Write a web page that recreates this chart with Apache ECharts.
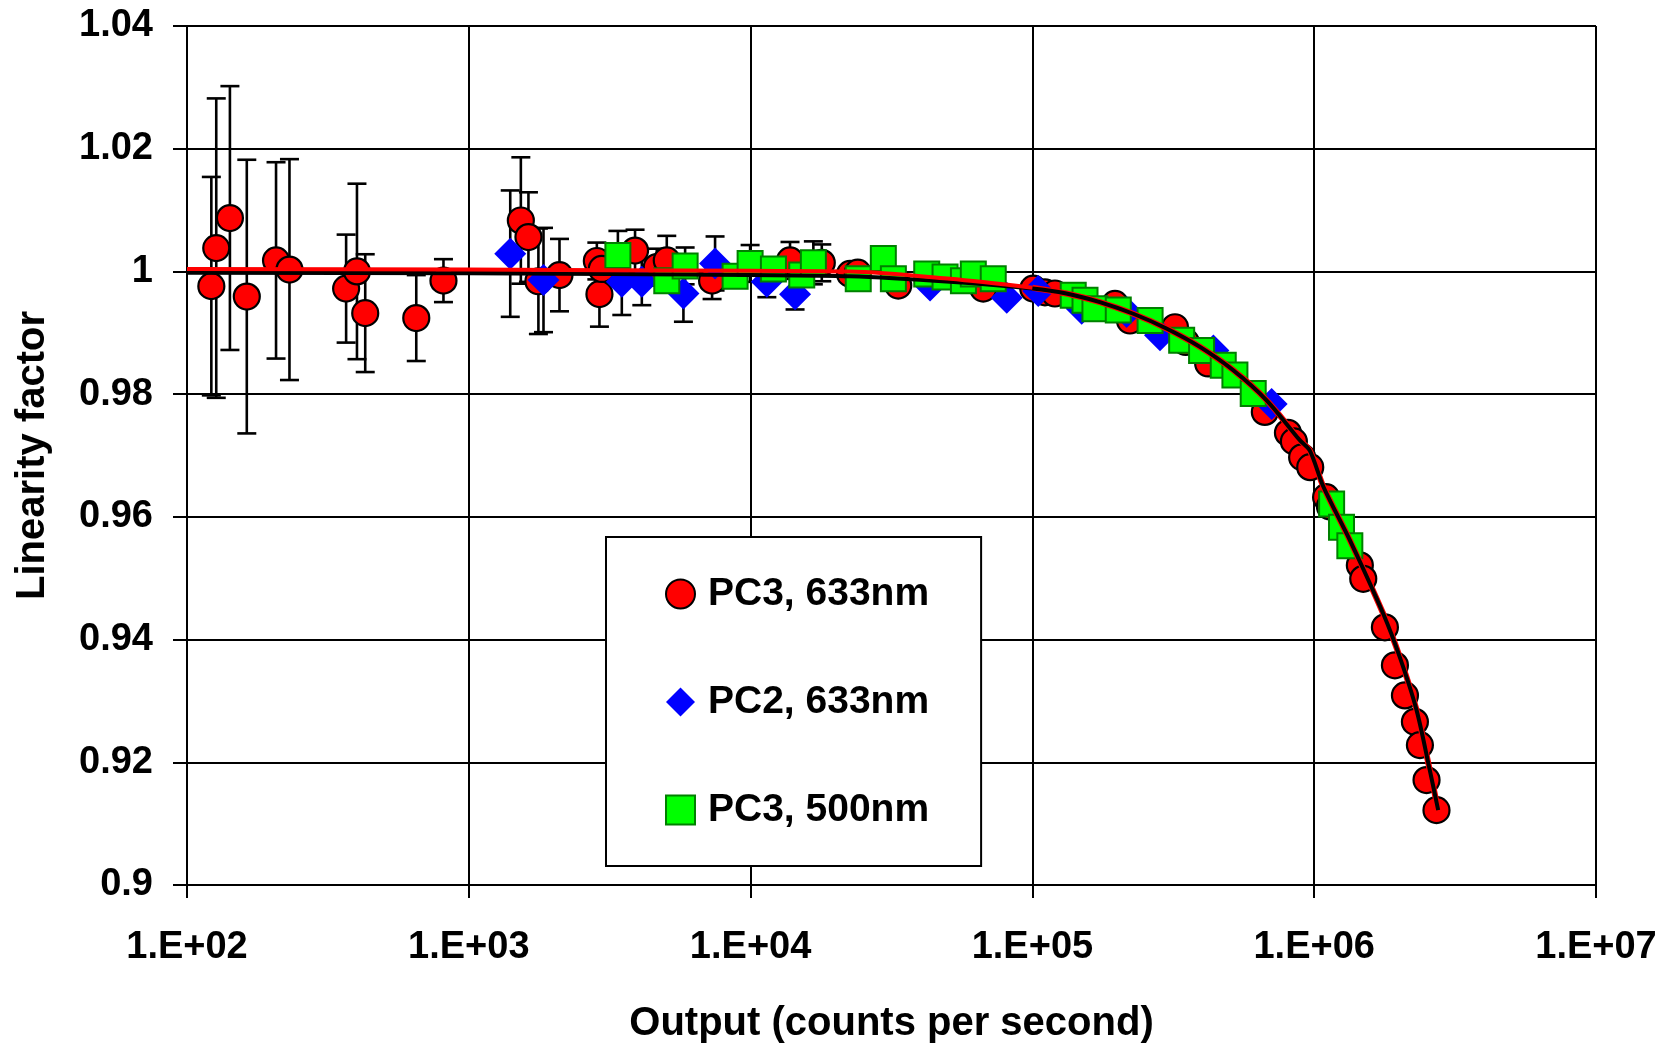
<!DOCTYPE html>
<html>
<head>
<meta charset="utf-8">
<script src="https://cdn.jsdelivr.net/npm/echarts@6/dist/echarts.min.js"></script>
<style>
html,body{margin:0;padding:0;background:#fff;}
#chart{width:1673px;height:1045px;}
</style>
</head>
<body>
<div id="chart"></div>
<script>
// ---- Data ----
const xTickLabels = ['1.E+02','1.E+03','1.E+04','1.E+05','1.E+06','1.E+07'];
const yTickLabels = ['0.9','0.92','0.94','0.96','0.98','1','1.02','1.04'];

// PC3, 633nm : [x, y, error]
const pc3_633 = [
  [122,0.9976,0.0178],[127,1.0038,0.0244],[142,1.0087,0.0215],[163,0.9959,0.0223],
  [207,1.0018,0.0160],[231,1.0003,0.0180],[367,0.9972,0.0088],[401,1.0000,0.0143],
  [429,0.9932,0.0096],[651,0.9924,0.0070],[813,0.9985,0.0035],
  [1530,1.0083,0.0103],[1628,1.0056,0.0073],[1766,0.9984,0.0086],[2098,0.9994,0.0059],
  [2847,1.0017,0.0030],[2908,0.9963,0.0053],[2965,1.0004,0.0030],[3890,1.0034,0.0034],
  [4645,1.0007,0.0030],[5041,1.0018,0.0040],[7300,0.9985,0.0030],[13800,1.0018,0.0030],
  [17890,1.0014,0.0030],[22540,0.9996,0],[24000,0.9998,0],[33420,0.9977,0],
  [66930,0.9972,0],[100700,0.9972,0],[110800,0.9966,0],[120200,0.9964,0],
  [196400,0.9947,0],[221900,0.9920,0],[320600,0.9909,0],[350000,0.9885,0],
  [420400,0.9850,0],[668100,0.9771,0],[807000,0.9737,0],[847000,0.9723,0],
  [906000,0.9697,0],[968000,0.9681,0],[1102000,0.9632,0],[1137000,0.9617,0],
  [1452000,0.9521,0],[1493000,0.9499,0],[1782000,0.9420,0],[1934000,0.9358,0],
  [2099000,0.9309,0],[2277000,0.9266,0],[2372000,0.9228,0],[2504000,0.9171,0],
  [2716000,0.9122,0]
];

// PC2, 633nm : [x, y, error]
const pc2_633 = [
  [1403,1.0029,0.0103],[1841,0.9986,0.0085],[3491,0.9983,0.0054],[4111,0.9983,0.0038],
  [5776,0.9964,0.0046],[7480,1.0013,0.0044],[11420,0.9983,0.0025],[14380,0.9963,0.0025],
  [43340,0.9977,0],[81100,0.9957,0],[104900,0.9968,0],[149600,0.9939,0],
  [216000,0.9934,0],[283600,0.9896,0],[438700,0.9871,0],[706200,0.9784,0]
];

// PC3, 500nm : [x, y, error]
const pc3_500 = [
  [3381,1.0026,0.0040],[5041,0.9985,0],[5857,1.0009,0.0030],[8810,0.9992,0],
  [9960,1.0013,0.0030],[12050,1.0004,0],[15190,0.9994,0],[16700,1.0014,0.0035],
  [24100,0.9988,0],[29580,1.0021,0],[32110,0.9988,0],[42170,0.9996,0],
  [48980,0.9991,0],[56920,0.9985,0],[61700,0.9996,0],[72620,0.9988,0],
  [139600,0.9961,0],[153700,0.9953,0],[166700,0.9939,0],[201700,0.9937,0],
  [261600,0.9920,0],[338600,0.9888,0],[398400,0.9871,0],[475600,0.9847,0],
  [523200,0.9831,0],[607600,0.9801,0],[1153000,0.9621,0],[1250000,0.9583,0],
  [1338000,0.9553,0]
];

// Fit curves
const fitRed = [
  [100,1.0004],[1000,1.0003],[10000,1.0001],[22500,1.0000],[51000,0.9988],
  [100000,0.99735],[132000,0.9964],[173500,0.9950],[228000,0.9931],[299000,0.9907],
  [393000,0.9877],[516000,0.9839],[678000,0.9790],[889000,0.9725],[965000,0.9708],
  [1078000,0.9649],[1338000,0.9562],[1758000,0.9442],[2014000,0.9371],
  [2308000,0.9285],[2572000,0.9187],[2754000,0.9122]
];
const fitBlack = [
  [100,0.9998],[1000,0.9997],[10000,0.9994],[22500,0.9992],[51000,0.9983],
  [100000,0.9972],[132000,0.9964],[173500,0.9950],[228000,0.9931],[299000,0.9907],
  [393000,0.9877],[516000,0.9839],[678000,0.9790],[889000,0.9725],[965000,0.9708],
  [1078000,0.9649],[1338000,0.9562],[1758000,0.9442],[2014000,0.9371],
  [2308000,0.9285],[2572000,0.9187],[2754000,0.9122]
];

const FONT = '"Liberation Sans", Arial, sans-serif';

function errorBarSeries(data, z) {
  return {
    type: 'custom',
    name: 'err',
    z: z,
    silent: true,
    data: data.filter(d => d[2] > 0),
    encode: { x: 0, y: 1 },
    renderItem: function (params, api) {
      const x = api.value(0), y = api.value(1), e = api.value(2);
      const top = api.coord([x, y + e]);
      const bot = api.coord([x, y - e]);
      const hw = 9.5;
      const st = { stroke: '#000', lineWidth: 2.6 };
      return {
        type: 'group',
        children: [
          { type: 'line', shape: { x1: top[0], y1: top[1], x2: bot[0], y2: bot[1] }, style: st },
          { type: 'line', shape: { x1: top[0] - hw, y1: top[1], x2: top[0] + hw, y2: top[1] }, style: st },
          { type: 'line', shape: { x1: bot[0] - hw, y1: bot[1], x2: bot[0] + hw, y2: bot[1] }, style: st }
        ]
      };
    }
  };
}

const chart = echarts.init(document.getElementById('chart'), null, { renderer: 'canvas' });
chart.setOption({
  animation: false,
  backgroundColor: '#fff',
  grid: { left: 187, right: 77, top: 26, bottom: 160, containLabel: false, outerBoundsMode: 'none' },
  xAxis: {
    type: 'log', logBase: 10, min: 100, max: 10000000,
    name: 'Output (counts per second)', nameLocation: 'middle', nameGap: 119,
    nameTextStyle: { fontFamily: FONT, fontWeight: 'bold', fontSize: 40, color: '#000' },
    axisLine: { show: true, onZero: false, lineStyle: { color: '#000', width: 2 } },
    axisTick: { show: true, length: 13, lineStyle: { color: '#000', width: 2 } },
    minorTick: { show: false },
    splitLine: { show: true, lineStyle: { color: '#000', width: 2 } },
    axisLabel: {
      margin: 44, fontFamily: FONT, fontWeight: 'bold', fontSize: 38, color: '#000',
      formatter: function (v) { return xTickLabels[Math.round(Math.log10(v)) - 2]; }
    }
  },
  yAxis: {
    type: 'value', min: 0.9, max: 1.04, interval: 0.02,
    name: 'Linearity factor', nameLocation: 'middle', nameGap: 134,
    nameTextStyle: { fontFamily: FONT, fontWeight: 'bold', fontSize: 40, color: '#000' },
    axisLine: { show: true, lineStyle: { color: '#000', width: 2 } },
    axisTick: { show: true, length: 14, lineStyle: { color: '#000', width: 2 } },
    splitLine: { show: true, lineStyle: { color: '#000', width: 2 } },
    axisLabel: {
      margin: 34, fontFamily: FONT, fontWeight: 'bold', fontSize: 38, color: '#000',
      formatter: function (v) { return yTickLabels[Math.round((v - 0.9) / 0.02)]; }
    }
  },
  legend: {
    orient: 'vertical', left: 606, top: 537,
    padding: [37, 52, 36, 59],
    itemGap: 68, itemWidth: 29, itemHeight: 29,
    backgroundColor: '#fff', borderColor: '#000', borderWidth: 2,
    textStyle: { fontFamily: FONT, fontWeight: 'bold', fontSize: 39, color: '#000', lineHeight: 40, padding: [0, 0, 0, 8] },
    data: ['PC3, 633nm', 'PC2, 633nm', 'PC3, 500nm']
  },
  series: [
    errorBarSeries(pc3_633, 1),
    errorBarSeries(pc2_633, 1),
    errorBarSeries(pc3_500, 1),
    {
      name: 'PC3, 633nm', type: 'scatter', z: 2, symbol: 'circle', symbolSize: 26,
      data: pc3_633.map(d => [d[0], d[1]]),
      itemStyle: { color: '#ff0000', borderColor: '#000', borderWidth: 2.2, opacity: 1 }
    },
    {
      name: 'PC2, 633nm', type: 'scatter', z: 3, symbol: 'diamond', symbolSize: 32,
      data: pc2_633.map(d => [d[0], d[1]]),
      itemStyle: { color: '#0000ff', opacity: 1 }
    },
    {
      name: 'PC3, 500nm', type: 'scatter', z: 4, symbol: 'rect', symbolSize: 25,
      data: pc3_500.map(d => [d[0], d[1]]),
      itemStyle: { color: '#00ff00', borderColor: '#008000', borderWidth: 2, opacity: 1 }
    },
    {
      name: 'fitBlack', type: 'line', z: 5, smooth: 0.3, showSymbol: false, symbol: 'none',
      data: fitBlack, lineStyle: { color: '#000000', width: 4 }, silent: true
    },
    {
      name: 'fitRed', type: 'line', z: 6, smooth: 0.3, showSymbol: false, symbol: 'none',
      data: fitRed.filter(d => d[0] <= 100000), lineStyle: { color: '#ff0000', width: 4 }, silent: true
    },
    {
      name: 'fitRedLow', type: 'line', z: 4.5, smooth: 0.3, showSymbol: false, symbol: 'none',
      data: fitRed.filter(d => d[0] >= 100000), lineStyle: { color: '#ff0000', width: 6 }, silent: true
    }
  ]
});
</script>
</body>
</html>
